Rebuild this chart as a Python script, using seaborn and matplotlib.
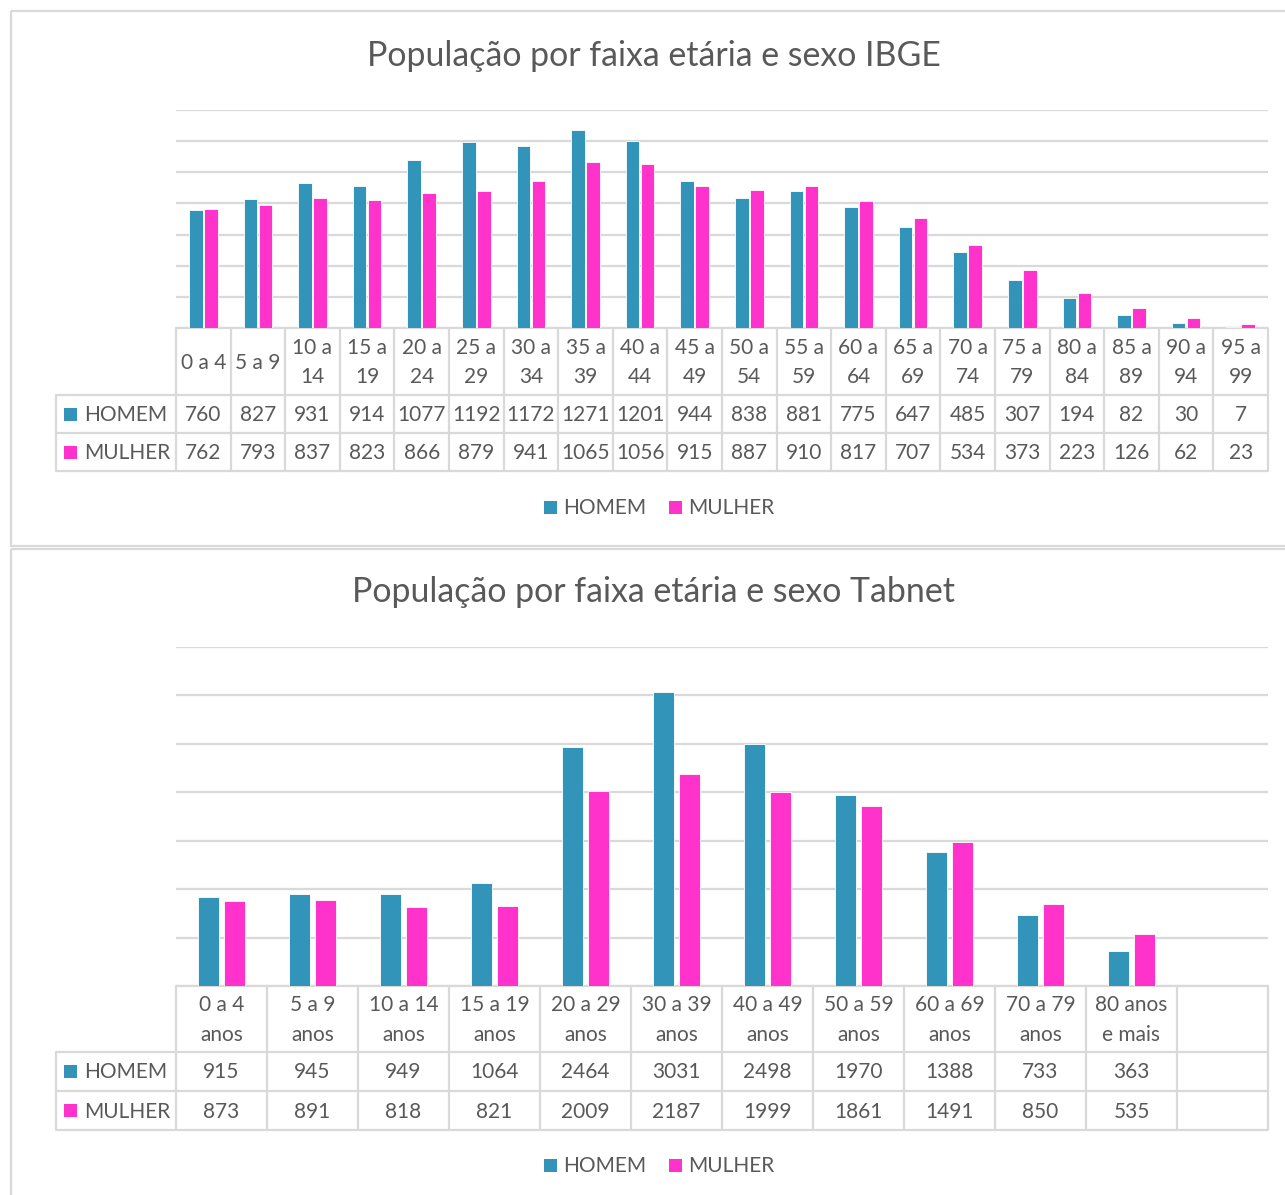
import numpy as np
import pandas as pd
import matplotlib
matplotlib.use("Agg")
import matplotlib.pyplot as plt
import seaborn as sns
from matplotlib.patches import Rectangle

# ----------------------------
# Data
# ----------------------------
ibge_faixas = ["0 a 4", "5 a 9", "10 a\n14", "15 a\n19", "20 a\n24", "25 a\n29",
               "30 a\n34", "35 a\n39", "40 a\n44", "45 a\n49", "50 a\n54", "55 a\n59",
               "60 a\n64", "65 a\n69", "70 a\n74", "75 a\n79", "80 a\n84", "85 a\n89",
               "90 a\n94", "95 a\n99"]
ibge_homem = [760, 827, 931, 914, 1077, 1192, 1172, 1271, 1201, 944,
              838, 881, 775, 647, 485, 307, 194, 82, 30, 7]
ibge_mulher = [762, 793, 837, 823, 866, 879, 941, 1065, 1056, 915,
               887, 910, 817, 707, 534, 373, 223, 126, 62, 23]

tabnet_faixas = ["0 a 4\nanos", "5 a 9\nanos", "10 a 14\nanos", "15 a 19\nanos",
                 "20 a 29\nanos", "30 a 39\nanos", "40 a 49\nanos", "50 a 59\nanos",
                 "60 a 69\nanos", "70 a 79\nanos", "80 anos\ne mais"]
tabnet_homem = [915, 945, 949, 1064, 2464, 3031, 2498, 1970, 1388, 733, 363]
tabnet_mulher = [873, 891, 818, 821, 2009, 2187, 1999, 1861, 1491, 850, 535]

series = ["HOMEM", "MULHER"]
colors = {"HOMEM": "#3394BA", "MULHER": "#FF33CC"}

# ----------------------------
# Style / layout config (pixels)
# ----------------------------
W, H = 1285, 1195
TXT = "#595959"
GRID = "#D9D9D9"
FONT = ["Lato", "DejaVu Sans"]
FS = 15.0       # table / legend text
FS_TITLE = 24.4

sns.set_theme(style="white")
plt.rcParams["font.family"] = FONT

fig = plt.figure(figsize=(W / 100, H / 100), dpi=100)
ov = fig.add_axes([0, 0, 1, 1], zorder=0)
ov.set_xlim(0, W)
ov.set_ylim(H, 0)
ov.axis("off")

# panel borders
ov.add_patch(Rectangle((11, 11), W, 535, fill=False, ec=GRID, lw=1.6))
ov.add_patch(Rectangle((11, 549), W, 660, fill=False, ec=GRID, lw=1.6))


def draw_panel(faixas, homem, mulher, n_slots, ymax, ystep, top, base,
               rows, title, title_y, legend_y, width, gap):
    left, right, lab_left = 176, 1268, 56
    ax = fig.add_axes([left / W, 1 - base / H, (right - left) / W, (base - top) / H],
                      zorder=2)
    ax.set_facecolor("none")

    df = pd.DataFrame({
        "faixa": faixas * 2,
        "sexo": ["HOMEM"] * len(faixas) + ["MULHER"] * len(faixas),
        "pop": homem + mulher,
    })
    sns.barplot(data=df, x="faixa", y="pop", hue="sexo", order=faixas,
                hue_order=series, palette=colors, width=width, gap=gap,
                saturation=1, edgecolor="white", linewidth=0.6, legend=False, ax=ax)

    ax.set_xlim(-0.5, n_slots - 0.5)
    ax.set_ylim(0, ymax)
    ax.set_yticks(np.arange(0, ymax + 1, ystep))
    ax.yaxis.grid(True, color=GRID, lw=1.6)
    ax.set_axisbelow(True)
    ax.tick_params(left=False, bottom=False, labelleft=False, labelbottom=False)
    ax.set_xlabel("")
    ax.set_ylabel("")
    for s in ax.spines.values():
        s.set_visible(False)

    # data table under the plot
    col_w = (right - left) / n_slots
    hdr_bot, r1_bot, r2_bot = rows
    for y in [base, hdr_bot, r1_bot, r2_bot]:
        x0 = left if y == base else lab_left
        ov.plot([x0, right], [y, y], color=GRID, lw=1.6, solid_capstyle="butt")
    ov.plot([lab_left, lab_left], [hdr_bot, r2_bot], color=GRID, lw=1.6)
    for i in range(n_slots + 1):
        x = left + i * col_w
        ov.plot([x, x], [base, r2_bot], color=GRID, lw=1.6)

    for i, lab in enumerate(faixas):
        cx = left + (i + 0.5) * col_w
        ov.text(cx, (base + hdr_bot) / 2 + 1, lab, ha="center", va="center",
                fontsize=FS, color=TXT, linespacing=1.62)
        ov.text(cx, (hdr_bot + r1_bot) / 2 + 1, str(homem[i]), ha="center",
                va="center", fontsize=FS, color=TXT)
        ov.text(cx, (r1_bot + r2_bot) / 2 + 1, str(mulher[i]), ha="center",
                va="center", fontsize=FS, color=TXT)

    for name, y0, y1 in [("HOMEM", hdr_bot, r1_bot), ("MULHER", r1_bot, r2_bot)]:
        cy = (y0 + y1) / 2
        ov.add_patch(Rectangle((64, cy - 6.5), 13, 13, color=colors[name], lw=0))
        ov.text(84, cy + 1, name, ha="left", va="center", fontsize=FS, color=TXT)

    # legend
    for name, sx in [("HOMEM", 544), ("MULHER", 669)]:
        ov.add_patch(Rectangle((sx, legend_y - 6.5), 13, 13, color=colors[name], lw=0))
        ov.text(sx + 19, legend_y + 1, name, ha="left", va="center",
                fontsize=FS, color=TXT)

    ov.text(654, title_y, title, ha="center", va="center", fontsize=FS_TITLE, color=TXT)


draw_panel(ibge_faixas, ibge_homem, ibge_mulher, n_slots=20, ymax=1400, ystep=200,
           top=110, base=328, rows=(395, 433, 471),
           title="População por faixa etária e sexo IBGE", title_y=56,
           legend_y=507, width=0.55, gap=0.1)

draw_panel(tabnet_faixas, tabnet_homem, tabnet_mulher, n_slots=12, ymax=3500,
           ystep=500, top=647, base=986, rows=(1052, 1091, 1130),
           title="População por faixa etária e sexo Tabnet", title_y=592,
           legend_y=1165, width=0.57, gap=0.19)

fig.savefig("out.png", dpi=100)
